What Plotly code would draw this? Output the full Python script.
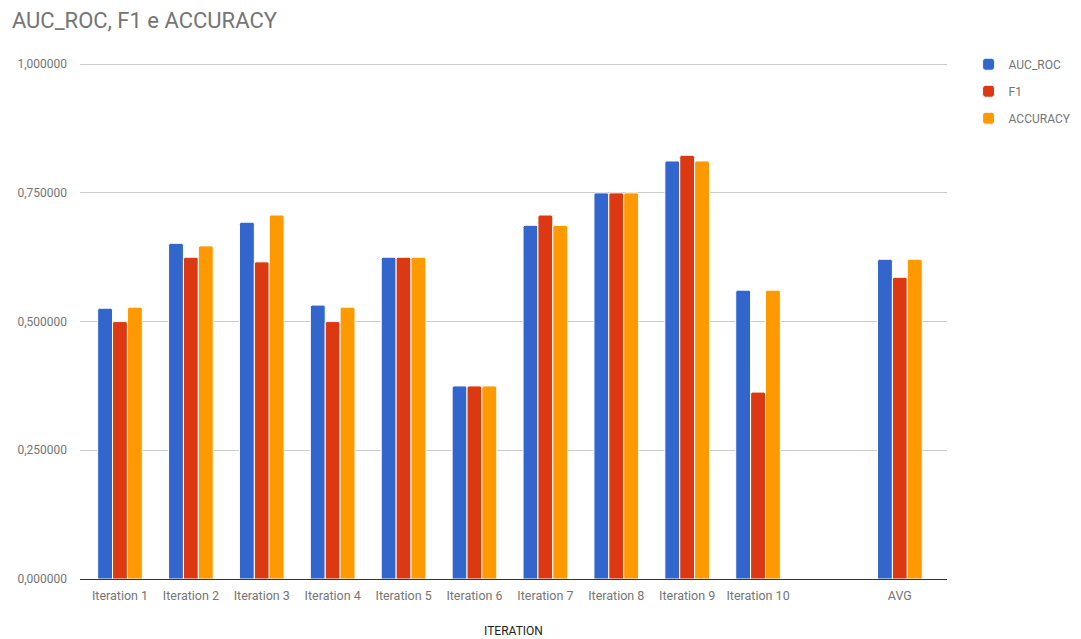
import plotly.graph_objects as go

# Categories (a blank slot separates the iterations from the average)
categories = ["Iteration 1", "Iteration 2", "Iteration 3", "Iteration 4", "Iteration 5",
              "Iteration 6", "Iteration 7", "Iteration 8", "Iteration 9", "Iteration 10",
              " ", "AVG"]

auc_roc = [0.526, 0.652, 0.693, 0.532, 0.625, 0.375, 0.687, 0.750, 0.812, 0.561, None, 0.621]
f1 = [0.500, 0.625, 0.616, 0.500, 0.625, 0.375, 0.707, 0.750, 0.823, 0.363, None, 0.586]
accuracy = [0.528, 0.647, 0.707, 0.528, 0.625, 0.375, 0.687, 0.750, 0.812, 0.561, None, 0.621]

y_ticks = [0, 0.25, 0.5, 0.75, 1.0]

series = [
    ("AUC_ROC", auc_roc, "#3366cc"),
    ("F1", f1, "#dc3912"),
    ("ACCURACY", accuracy, "#ff9900"),
]

fig = go.Figure()
for name, vals, color in series:
    fig.add_trace(go.Bar(
        x=categories, y=vals, name=name,
        marker=dict(color=color, line=dict(color="white", width=1)),
        legendgroup=name,
    ))

grey = "#757575"
fig.update_layout(
    width=1081, height=639,
    margin=dict(l=80, r=134, t=59, b=60, autoexpand=False),
    paper_bgcolor="white", plot_bgcolor="white",
    font=dict(family="Roboto, Arial, sans-serif", size=12, color=grey),
    separators=",.",
    title=dict(text="AUC_ROC, F1 e ACCURACY", x=0.011, xanchor="left",
               y=0.968, yanchor="middle",
               font=dict(size=22, color=grey)),
    barmode="group", bargap=0.37, bargroupgap=0.0,
    barcornerradius=2,
    legend=dict(xref="container", x=0.896, xanchor="left",
                y=0.938, yanchor="middle",
                font=dict(size=12, color=grey), traceorder="grouped",
                tracegroupgap=8, itemwidth=30),
    xaxis=dict(
        type="category", range=[-0.564, 11.665],
        showgrid=False, showline=True, linecolor="#333333", linewidth=1,
        ticks="", ticklabelstandoff=5, tickfont=dict(size=12.5, color=grey),
        title=dict(text="ITERATION", font=dict(size=12, color="#222222"), standoff=24),
    ),
    yaxis=dict(
        range=[0, 1.01], tickvals=y_ticks, tickformat=".6f",
        showgrid=True, gridcolor="#cccccc", gridwidth=1,
        zeroline=False, ticks="", ticklen=0, ticklabelstandoff=12,
        tickfont=dict(size=12, color=grey),
    ),
)

fig.write_html("out.html")
